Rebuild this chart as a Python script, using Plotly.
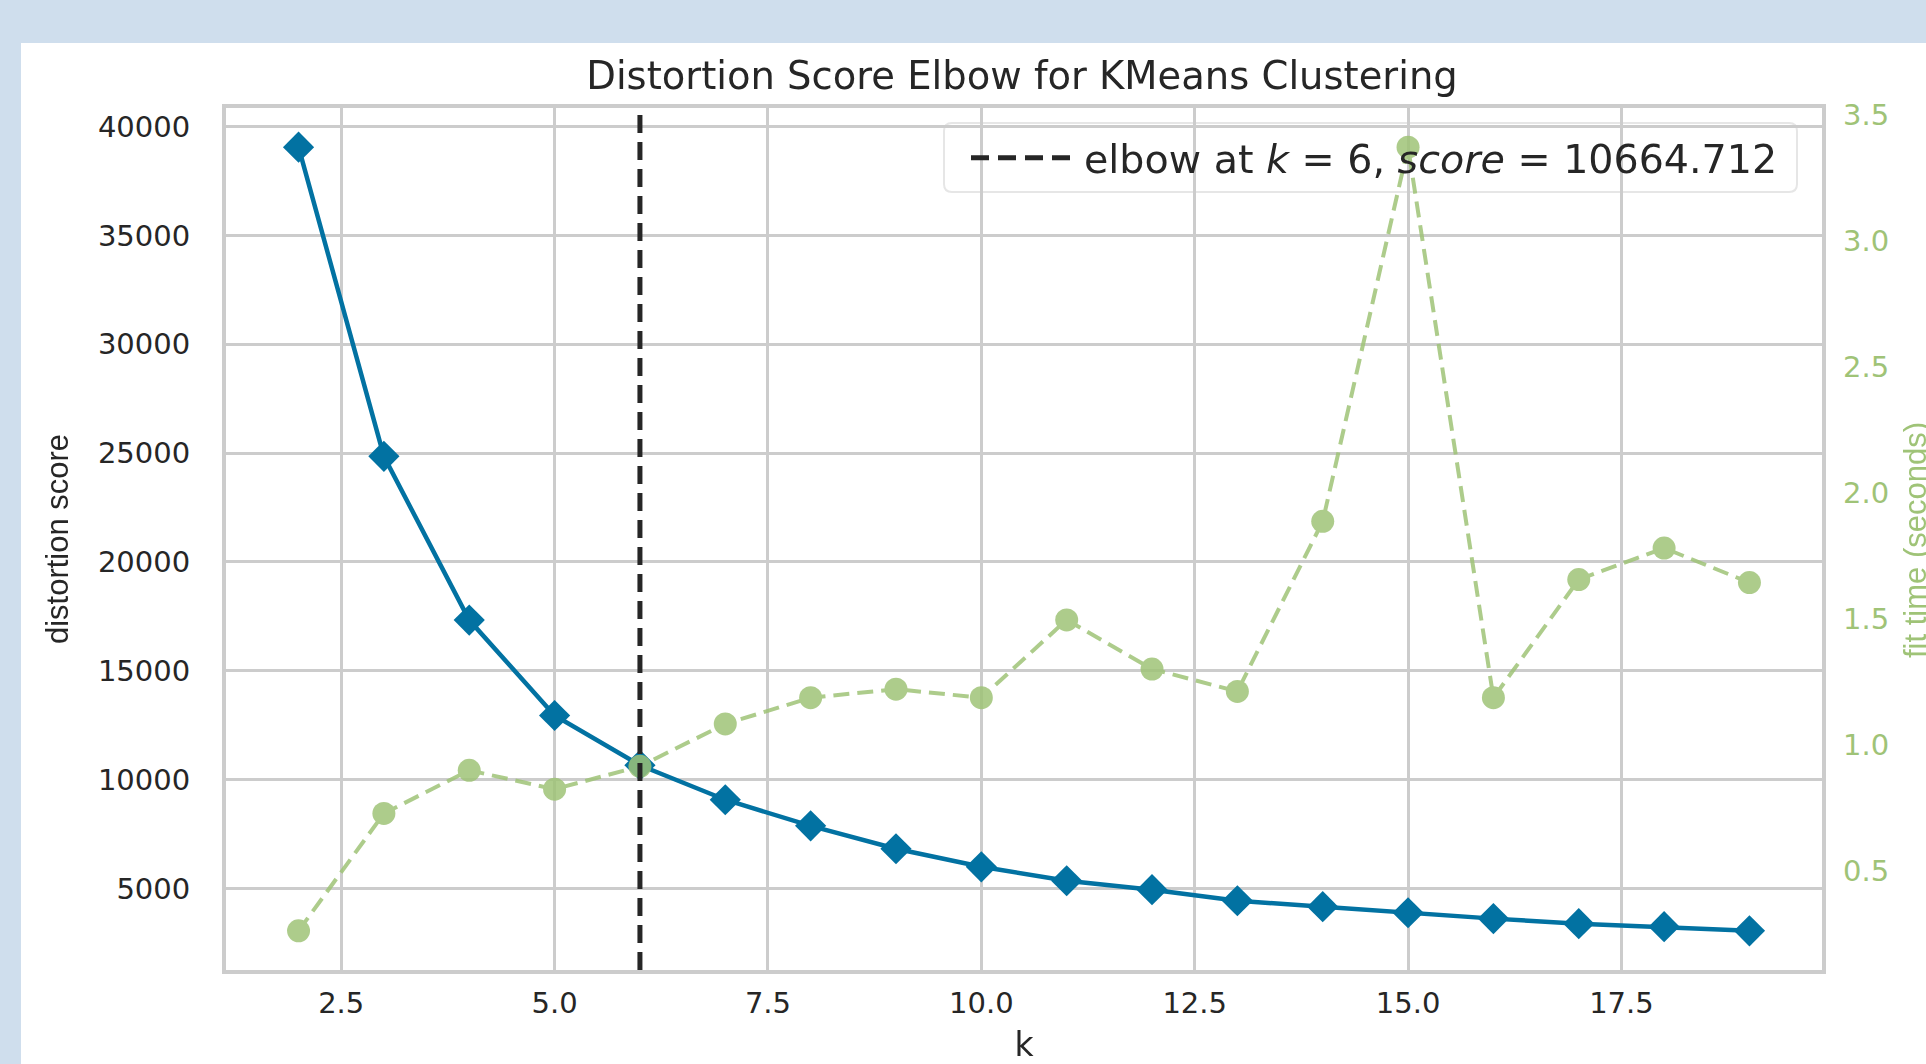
import plotly.graph_objects as go

# ---------------- data ----------------
k_values = list(range(2, 20))
distortion = [39050, 24850, 17330, 12950, 10664.712, 9080, 7880, 6830, 6000,
              5360, 4950, 4440, 4170, 3890, 3620, 3390, 3250, 3060]
fit_time = [0.263, 0.729, 0.900, 0.825, 0.916, 1.084, 1.188, 1.222, 1.188,
            1.497, 1.302, 1.213, 1.888, 3.373, 1.188, 1.657, 1.782, 1.645]
elbow_k = 6
elbow_score = 10664.712
x_ticks = [2.5, 5.0, 7.5, 10.0, 12.5, 15.0, 17.5]
y_ticks = [5000, 10000, 15000, 20000, 25000, 30000, 35000, 40000]
y2_ticks = [0.5, 1.0, 1.5, 2.0, 2.5, 3.0, 3.5]

title_text = "Distortion Score Elbow for KMeans Clustering"
x_label = "k"
y_label = "distortion score"
y2_label = "fit time (seconds)"
legend_label = f"elbow at <i>k</i> = {elbow_k}, <i>score</i> = {elbow_score:.3f}"

# ---------------- style ----------------
W, H = 1926, 1064
ML, MR, MT, MB = 226, 104, 108, 94
PW, PH = W - ML - MR, H - MT - MB
BLUE = "#0272a2"
GREEN = "#9fc377"
TEXT = "#262626"
GRID = "#cccccc"
BAND = "#cfdeed"
WIDE = "DejaVu Sans"
ROT = "Liberation Sans, Arial, sans-serif"


def padded(vals, frac=0.05):
    lo, hi = min(vals), max(vals)
    span = hi - lo
    return [lo - frac * span, hi + frac * span]


def px_x(p):
    return (p - ML) / PW


def px_y(p):
    return (H - MB - p) / PH


fig = go.Figure()

fig.add_trace(go.Scatter(
    x=k_values, y=distortion, mode="lines+markers",
    line=dict(color=BLUE, width=4.5),
    marker=dict(symbol="diamond", size=24, color=BLUE),
    showlegend=False, hoverinfo="skip",
))
fig.add_trace(go.Scatter(
    x=k_values, y=fit_time, yaxis="y2", mode="lines+markers",
    line=dict(color=GREEN, width=4, dash="16px,8px"),
    marker=dict(symbol="circle", size=23, color=GREEN),
    opacity=0.85, showlegend=False, hoverinfo="skip",
))

# white panel over light-blue page
fig.add_shape(type="rect", xref="paper", yref="paper",
              x0=px_x(21), x1=px_x(W + 50), y0=px_y(H + 50), y1=px_y(43),
              fillcolor="white", line=dict(width=0), layer="below")

# legend frame (drawn under the traces)
x0, x1, y0, y1 = px_x(944), px_x(1797), px_y(192), px_y(123)
rx, ry = 8 / PW, 8 / PH
path = (f"M {x0+rx},{y0} L {x1-rx},{y0} Q {x1},{y0} {x1},{y0+ry} "
        f"L {x1},{y1-ry} Q {x1},{y1} {x1-rx},{y1} L {x0+rx},{y1} "
        f"Q {x0},{y1} {x0},{y1-ry} L {x0},{y0+ry} Q {x0},{y0} {x0+rx},{y0} Z")
fig.add_shape(type="path", path=path, xref="paper", yref="paper",
              fillcolor="white", line=dict(color="#e6e6e6", width=2),
              layer="below")

# elbow line
fig.add_vline(x=elbow_k, line=dict(color=TEXT, width=5, dash="18px,9px"),
              showlegend=True, name=legend_label)

# right axis title (partly cut by the page edge, as in the original)
fig.add_annotation(text=y2_label, xref="paper", yref="paper",
                   x=px_x(1915), y=px_y(540), xanchor="center",
                   yanchor="middle", textangle=-90, showarrow=False,
                   font=dict(family=ROT, size=31, color=GREEN))

fig.update_layout(
    width=W, height=H,
    margin=dict(l=ML, r=MR, t=MT, b=MB, autoexpand=False),
    paper_bgcolor=BAND, plot_bgcolor="rgba(0,0,0,0)",
    title=dict(text=title_text, x=px_x(1022), xref="paper", xanchor="center",
               y=1 - 76 / H, yref="container", yanchor="middle",
               font=dict(family=WIDE, size=38.5, color=TEXT)),
    xaxis=dict(range=padded(k_values), tickvals=x_ticks,
               ticktext=[f"{v:.1f}" for v in x_ticks],
               tickfont=dict(family=WIDE, size=29, color=TEXT),
               showgrid=True, gridcolor=GRID, gridwidth=3,
               showline=True, linecolor=GRID, linewidth=4, mirror=True,
               zeroline=False, ticks="", ticklabelstandoff=4,
               automargin=False,
               title=dict(text=x_label, standoff=16,
                          font=dict(family=WIDE, size=33, color=TEXT))),
    yaxis=dict(range=padded(distortion), tickvals=y_ticks,
               ticktext=[str(v) for v in y_ticks],
               tickfont=dict(family=WIDE, size=29, color=TEXT),
               showgrid=True, gridcolor=GRID, gridwidth=3,
               showline=True, linecolor=GRID, linewidth=4, mirror=True,
               zeroline=False, ticks="", ticklabelstandoff=26,
               automargin=False,
               title=dict(text=y_label, standoff=21,
                          font=dict(family=ROT, size=31, color=TEXT))),
    yaxis2=dict(range=padded(fit_time), tickvals=y2_ticks,
                ticktext=[f"{v:.1f}" for v in y2_ticks],
                overlaying="y", side="right",
                tickfont=dict(family=WIDE, size=29, color=GREEN),
                showgrid=False, showline=False, zeroline=False, ticks="",
                ticklabelstandoff=20, automargin=False),
    legend=dict(x=px_x(966), xanchor="left", y=px_y(158), yanchor="middle",
                bgcolor="rgba(0,0,0,0)", borderwidth=0, itemwidth=108,
                font=dict(family=WIDE, size=39.6, color=TEXT)),
    showlegend=True,
)

fig.write_html("out.html", config={"displayModeBar": False})
